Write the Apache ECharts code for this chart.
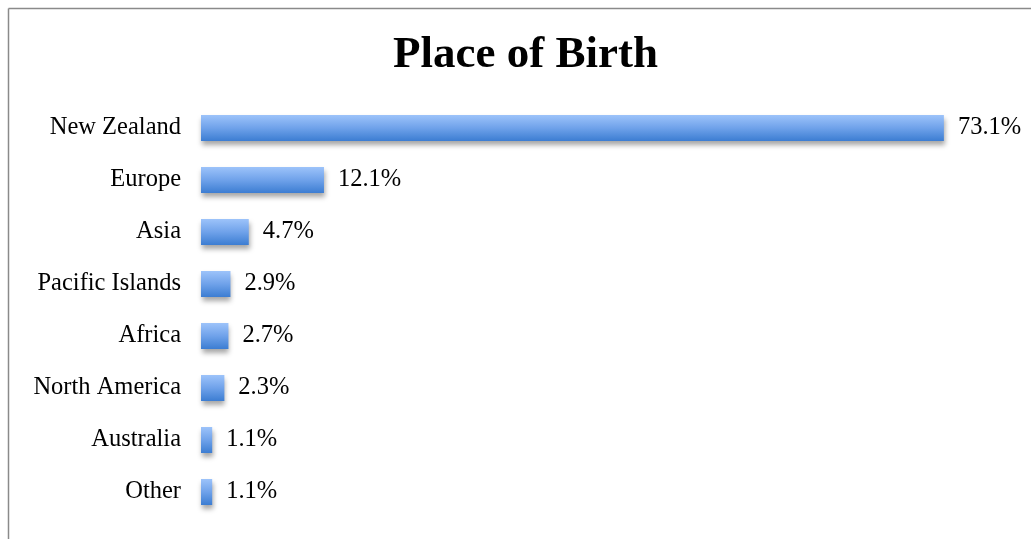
<!DOCTYPE html>
<html><head><meta charset="utf-8">
<script src="https://cdn.jsdelivr.net/npm/echarts@6/dist/echarts.min.js"></script>
<style>html,body{margin:0;padding:0;background:#fff}#c{width:1031px;height:539px}</style>
</head><body><div id="c"></div>
<script>
var categories = ['New Zealand','Europe','Asia','Pacific Islands','Africa','North America','Australia','Other'];
var values = [73.1, 12.1, 4.7, 2.9, 2.7, 2.3, 1.1, 1.1];
var titleText = 'Place of Birth';

var chart = echarts.init(document.getElementById('c'));
var serif = '"Liberation Serif","Times New Roman",serif';
chart.setOption({
  animation: false,
  backgroundColor: '#fff',
  title: {
    text: titleText, left: 388, top: 28,
    textStyle: {fontFamily: serif, fontWeight: 'bold', fontSize: 45, color: '#000'}
  },
  graphic: [
    {type: 'line', shape: {x1: 8.5, y1: 8.5, x2: 1031, y2: 8.5}, style: {stroke: '#8a8a8a', lineWidth: 1.5}},
    {type: 'line', shape: {x1: 8.5, y1: 8.5, x2: 8.5, y2: 539}, style: {stroke: '#8a8a8a', lineWidth: 1.5}}
  ],
  grid: {left: 201, right: 17, top: 102, bottom: 21, containLabel: false},
  xAxis: {type: 'value', min: 0, max: 80, show: false},
  yAxis: {
    type: 'category', data: categories, inverse: true,
    axisLine: {show: false}, axisTick: {show: false},
    axisLabel: {fontFamily: serif, fontSize: 24.5, color: '#000', margin: 20}
  },
  series: [{
    type: 'bar', data: values, barWidth: 26,
    itemStyle: {
      color: new echarts.graphic.LinearGradient(0, 0, 0, 1, [
        {offset: 0, color: '#9dc3fa'}, {offset: 0.5, color: '#6fa2ea'}, {offset: 1, color: '#3c7dd2'}
      ]),
      shadowColor: 'rgba(0,0,0,0.35)', shadowBlur: 5, shadowOffsetX: 1, shadowOffsetY: 4
    },
    label: {
      show: true, position: 'right', distance: 14,
      formatter: function (p) { return p.value.toFixed(1) + '%'; },
      fontFamily: serif, fontSize: 24.5, color: '#000'
    }
  }]
});
</script></body></html>
